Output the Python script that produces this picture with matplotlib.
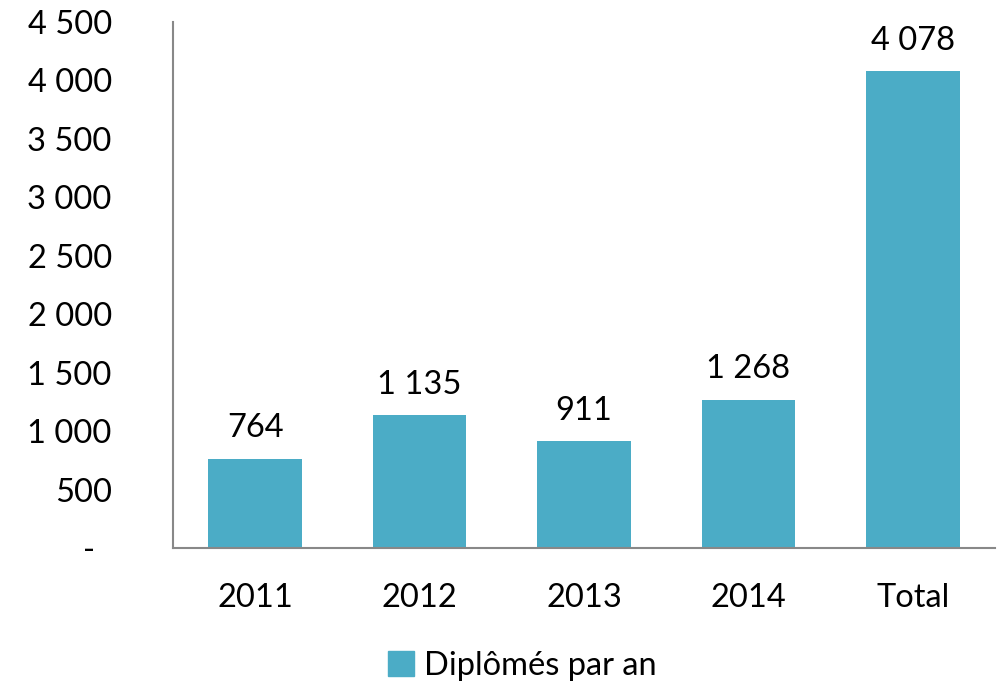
import matplotlib
matplotlib.use("Agg")
import matplotlib.pyplot as plt
from matplotlib.patches import Patch

plt.rcParams['font.family'] = ['Lato', 'DejaVu Sans']

categories = ["2011", "2012", "2013", "2014", "Total"]
values = [764, 1135, 911, 1268, 4078]
y_ticks = [0, 500, 1000, 1500, 2000, 2500, 3000, 3500, 4000, 4500]
series_name = "Diplômés par an"
color = "#4BACC6"
fs = 23.5


def fmt(v):
    # accounting style: zero shows as a dash
    if v == 0:
        return "-  "
    return f"{v:,}".replace(",", " ")


fig = plt.figure(figsize=(9.98, 6.83), dpi=100)
ax = fig.add_axes([0.1733, 0.1977, 0.8237, 0.7701])

x = range(len(categories))
bars = ax.bar(x, values, width=0.57, color=color, zorder=2)

for b, v in zip(bars, values):
    ax.annotate(fmt(v), (b.get_x() + b.get_width() / 2, v),
                xytext=(0, 11), textcoords="offset points",
                ha="center", va="bottom", fontsize=fs)

ax.set_xlim(-0.5, len(categories) - 0.5)
ax.set_ylim(0, 4500)
ax.set_yticks(y_ticks)
ax.set_yticklabels([fmt(t) for t in y_ticks])
ax.set_xticks(list(x))
ax.set_xticklabels(categories)
ax.tick_params(axis="both", length=0, labelsize=fs)
ax.tick_params(axis="y", pad=44)
ax.tick_params(axis="x", pad=25)

for s in ["top", "right"]:
    ax.spines[s].set_visible(False)
for s in ["left", "bottom"]:
    ax.spines[s].set_color("#888888")
    ax.spines[s].set_linewidth(1.5)

fig.legend(handles=[Patch(color=color, label=series_name)],
           loc="center", bbox_to_anchor=(0.523, 0.025), frameon=False,
           fontsize=fs, handlelength=0.8, handleheight=0.8, handletextpad=0.3)

fig.savefig("out.png", dpi=100)
